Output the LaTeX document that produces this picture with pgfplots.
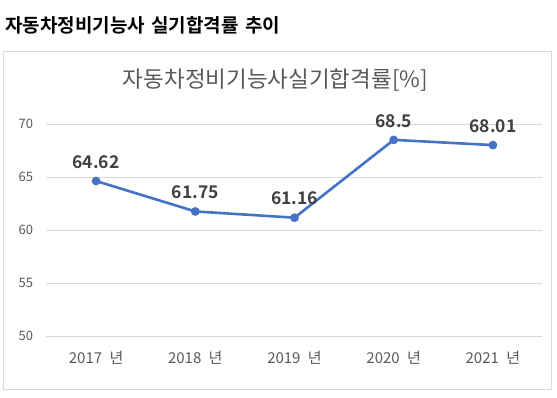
\documentclass[border=0pt]{standalone}
\usepackage{pgfplots}
\pgfplotsset{compat=1.18}
\usepackage{fontspec}
\setmainfont{Noto Sans CJK KR}
\newfontfamily\krbold{Noto Sans CJK KR Bold}
\definecolor{lineblue}{HTML}{4472C4}
\definecolor{txtgray}{HTML}{595959}
\definecolor{lblgray}{HTML}{404040}
\definecolor{gridgray}{HTML}{D9D9D9}
\begin{document}
\begin{tikzpicture}[x=1pt,y=1pt]
\path[use as bounding box] (0,0) rectangle (557,398);
\draw[gridgray, line width=1pt] (3.5,8) rectangle (551,346);
\node[anchor=west, inner sep=0pt, font=\krbold\fontsize{19}{22}\selectfont, text=black] at (5,373) {자동차정비기능사\hspace{2pt} 실기합격률\hspace{2pt} 추이};
\node[anchor=center, inner sep=0pt, font=\fontsize{22.5}{26}\selectfont, text=txtgray] at (275.5,318) {자동차정비기능사실기합격률[\%]};
\begin{axis}[
  at={(46.5pt,62pt)}, anchor=south west,
  scale only axis, width=496pt, height=212pt,
  xmin=-0.5, xmax=4.5, ymin=50, ymax=70,
  xtick={0,1,2,3,4},
  xticklabels={2017\hspace{4pt} 년,2018\hspace{4pt} 년,2019\hspace{4pt} 년,2020\hspace{4pt} 년,2021\hspace{4pt} 년},
  ytick={50,55,60,65,70},
  axis line style={draw=none},
  tick style={draw=none},
  ymajorgrids, grid style={gridgray, line width=0.8pt},
  ticklabel style={text=txtgray},
  yticklabel style={font=\fontsize{13}{15}\selectfont, xshift=-10pt},
  xticklabel style={font=\fontsize{15}{18}\selectfont, yshift=-12pt},
  /pgf/number format/assume math mode=true,
  clip=false,
]
\addplot[lineblue, line width=2.6pt, mark=*, mark size=3pt,
  nodes near coords,
  every node near coord/.append style={font=\krbold\fontsize{17.5}{20}\selectfont, text=lblgray, yshift=8pt},
  point meta=explicit symbolic]
  coordinates {(0,64.62)[64.62] (1,61.75)[61.75] (2,61.16)[61.16] (3,68.5)[68.5] (4,68.01)[68.01]};
\end{axis}
\end{tikzpicture}
\end{document}
